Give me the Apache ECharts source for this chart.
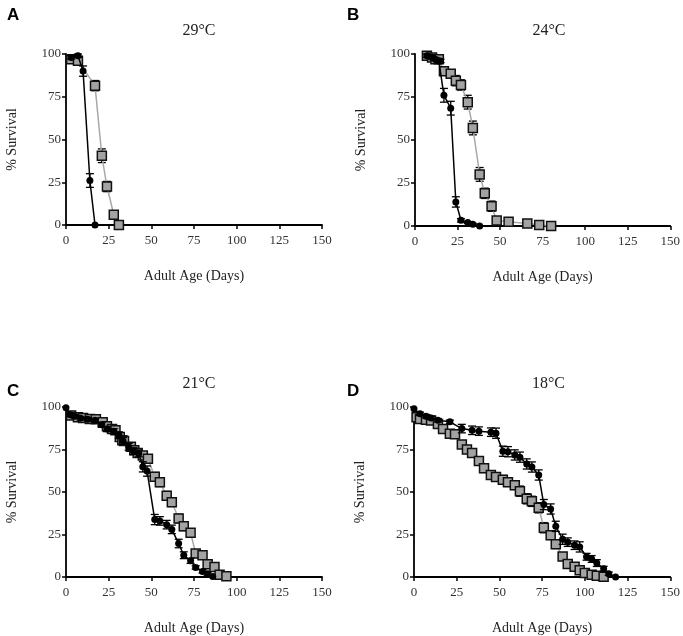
<!DOCTYPE html>
<html><head><meta charset="utf-8">
<script src="https://cdn.jsdelivr.net/npm/echarts@6/dist/echarts.min.js"></script>
<style>html,body{margin:0;padding:0;background:#fff}#c{width:683px;height:636px}</style>
</head><body><div id="c"></div>
<script>
// ---- Panel A: 29°C ----
const aBlackDays = [3, 7, 10, 14, 17];
const aBlackSurv = [98, 99, 90, 26, 0];
const aBlackErr  = [1, 1, 3, 4, 0];
const aGrayDays  = [3, 7, 17, 21, 24, 28, 31];
const aGraySurv  = [97, 96, 81.5, 40.5, 22.5, 6, 0];
const aGrayErr   = [1, 1, 3, 4, 3, 1, 0];
// ---- Panel B: 24°C ----
const bBlackDays = [7, 10, 12, 14, 15, 17, 21, 24, 27, 31, 34, 38];
const bBlackSurv = [99, 98, 97, 96, 96, 76, 68.5, 14, 3.3, 2, 1, 0];
const bBlackErr  = [1, 1, 1, 1, 1, 4, 4, 3, 1, 0.5, 0.5, 0];
const bGrayDays  = [7, 10, 12, 14, 17, 21, 24, 27, 31, 34, 38, 41, 45, 48, 55, 66, 73, 80];
const bGraySurv  = [99, 98, 97, 97, 90, 88.5, 84.5, 82, 72, 57, 30, 19, 11.5, 3.2, 2.5, 1.5, 0.6, 0];
const bGrayErr   = [1, 1, 1, 1, 2, 2, 3, 3, 4, 4, 4, 3, 3, 1, 1, 1, 1, 0];
// ---- Panel C: 21°C ----
const cBlackDays = [0, 2.5, 5, 8.5, 12.7, 17, 21, 24, 28, 31, 33.4, 36.7, 39.6, 42.6, 45, 47.5, 52, 55, 59, 62, 66, 69, 73, 76, 80, 83, 86];
const cBlackSurv = [99.5, 95.5, 94.5, 93.4, 92.8, 92.2, 89.6, 87, 85.7, 83.4, 80, 76.6, 74, 72.7, 64.8, 62.3, 33.8, 33, 30.8, 28, 19.7, 12.8, 9.5, 5.6, 3.3, 1.9, 0.3];
const cBlackErr  = [0, 1, 1, 1, 1, 1, 1.5, 1.5, 1.5, 2, 2, 2, 2, 2, 3, 3, 3, 2.5, 2.5, 2.5, 2.5, 2, 1.5, 1, 1, 1, 0];
const cGrayDays  = [3, 7, 10, 14, 17.5, 21.5, 24, 27, 29, 31.5, 33, 34, 38, 40, 42, 45, 48, 52, 55, 59, 62, 66, 69, 73, 76, 80, 83, 87, 90, 94];
const cGraySurv  = [95, 94, 93.5, 93, 92.8, 91, 88.7, 87, 86.3, 82.4, 80.5, 80, 76.6, 74.6, 73, 71.5, 69.5, 59, 55.7, 47.8, 44, 34.4, 29.8, 26, 13.8, 12.8, 7.5, 5.9, 1.3, 0.4];
const cGrayErr   = [1, 1, 1, 1, 1, 1.5, 1.5, 1.5, 1.5, 2, 2, 2, 2, 2, 2, 2, 2, 2.5, 2.5, 2.5, 2.5, 2.5, 2.5, 2, 2, 2, 1.5, 1.5, 1, 0];
// ---- Panel D: 18°C ----
const dBlackDays = [0, 3.5, 7, 10, 14, 21, 28, 34, 38, 45, 48, 52, 55, 59, 62, 66, 69, 73, 76, 80, 83, 87, 90, 94, 97, 101, 104, 107, 111, 114, 118];
const dBlackSurv = [99, 96, 94.6, 93.6, 92.2, 91.3, 87.3, 86.3, 85.8, 85.2, 84.6, 74, 73.7, 71.8, 70.5, 66.5, 64.7, 60, 42.6, 40, 29.8, 22.2, 20.5, 18.7, 17.7, 11.9, 10.6, 8.2, 4.8, 1.9, 0];
const dBlackErr  = [0, 1, 1, 1, 1, 1, 2.5, 2.5, 2.5, 2.5, 3, 3, 3, 3, 3, 3, 3, 3, 3, 3, 3, 3, 2.5, 2.5, 3, 2, 2, 2, 1.5, 1, 0];
const dGrayDays  = [1.5, 3.5, 7, 10, 14, 17, 21, 24, 28, 31, 34, 38, 41, 45, 48, 52, 55, 59, 62, 66, 69, 73, 76, 80, 83, 87, 90, 94, 97, 100, 104, 107, 111];
const dGraySurv  = [94, 93, 92.5, 92, 90, 87, 84.3, 84, 78, 75, 73, 68.3, 64, 60, 58.8, 57.2, 55.8, 54, 50.5, 46, 44.5, 40.7, 29, 24.6, 19.3, 12, 7.7, 6, 4, 2.4, 1.3, 0.7, 0.2];
const dGrayErr   = [1, 1, 1, 1, 1, 1.5, 1.5, 1.5, 2, 2, 2, 2.5, 2.5, 2.5, 2.5, 2.5, 2.5, 2.5, 3, 3, 3, 3, 3, 2.5, 2.5, 2, 1.5, 1.5, 1, 1, 0.5, 0.5, 0];

const titles = ['29°C', '24°C', '21°C', '18°C'];
const letters = ['A', 'B', 'C', 'D'];
const xTicks = [0, 25, 50, 75, 100, 125, 150];
const yTicks = [0, 25, 50, 75, 100];

const panels = [
  {bd: aBlackDays, bs: aBlackSurv, be: aBlackErr, gd: aGrayDays, gs: aGraySurv, ge: aGrayErr},
  {bd: bBlackDays, bs: bBlackSurv, be: bBlackErr, gd: bGrayDays, gs: bGraySurv, ge: bGrayErr},
  {bd: cBlackDays, bs: cBlackSurv, be: cBlackErr, gd: cGrayDays, gs: cGraySurv, ge: cGrayErr},
  {bd: dBlackDays, bs: dBlackSurv, be: dBlackErr, gd: dGrayDays, gs: dGraySurv, ge: dGrayErr}
];
const grids = [
  {left: 66, top: 54, width: 256, height: 171},
  {left: 415, top: 54, width: 258, height: 172},
  {left: 66, top: 407, width: 256, height: 170},
  {left: 414, top: 407, width: 259, height: 171}
];
const SERIF = '"Liberation Serif", "Times New Roman", serif';

function pairs(d, s) { return d.map((x, i) => [x, s[i]]); }
function triples(d, s, e) { return d.map((x, i) => [x, s[i], e[i]]); }

function errSeries(i, data, z) {
  return {
    type: 'custom', xAxisIndex: i, yAxisIndex: i, z: z, silent: true,
    data: data,
    renderItem: function (params, api) {
      const x = api.value(0), y = api.value(1), e = api.value(2);
      if (!e) return null;
      const top = api.coord([x, y + e]);
      const bot = api.coord([x, Math.max(0, y - e)]);
      const w = 4;
      const st = {stroke: '#000', lineWidth: 1.3};
      return {type: 'group', children: [
        {type: 'line', shape: {x1: top[0], y1: top[1], x2: bot[0], y2: bot[1]}, style: st},
        {type: 'line', shape: {x1: top[0] - w, y1: top[1], x2: top[0] + w, y2: top[1]}, style: st},
        {type: 'line', shape: {x1: bot[0] - w, y1: bot[1], x2: bot[0] + w, y2: bot[1]}, style: st}
      ]};
    }
  };
}

const option = {
  backgroundColor: '#fff',
  animation: false,
  title: [],
  grid: grids.map(g => Object.assign({containLabel: false}, g)),
  xAxis: grids.map((g, i) => ({
    gridIndex: i, type: 'value', min: 0, max: 150, interval: 25,
    name: 'Adult Age (Days)', nameLocation: 'middle', nameGap: 44,
    nameTextStyle: {fontFamily: SERIF, fontSize: 14, color: '#222'},
    axisLine: {show: true, onZero: false, lineStyle: {color: '#000', width: 1.8}},
    axisTick: {show: true, length: 4, lineStyle: {color: '#000', width: 1.5}},
    axisLabel: {fontFamily: SERIF, fontSize: 13, color: '#333', margin: 9},
    splitLine: {show: false}
  })),
  yAxis: grids.map((g, i) => ({
    gridIndex: i, type: 'value', min: 0, max: 100, interval: 25,
    name: '% Survival', nameLocation: 'middle', nameGap: 47, nameRotate: 90,
    nameTextStyle: {fontFamily: SERIF, fontSize: 14, color: '#222'},
    axisLine: {show: true, onZero: false, lineStyle: {color: '#000', width: 1.8}},
    axisTick: {show: true, length: 4, lineStyle: {color: '#000', width: 1.5}},
    axisLabel: {fontFamily: SERIF, fontSize: 13, color: '#333', margin: 5},
    splitLine: {show: false}
  })),
  series: []
};

grids.forEach((g, i) => {
  option.title.push({
    text: titles[i], left: g.left + g.width / 2, top: g.top - 36, textAlign: 'center',
    textStyle: {fontFamily: SERIF, fontSize: 16, fontWeight: 'normal', color: '#222'}
  });
  option.title.push({
    text: letters[i], left: i % 2 === 0 ? 2 : 342, top: i < 2 ? 2 : 378,
    textStyle: {fontFamily: '"Liberation Sans", Arial, sans-serif', fontSize: 17, fontWeight: 'bold', color: '#000'}
  });
  const p = panels[i];
  option.series.push(errSeries(i, triples(p.gd, p.gs, p.ge), 2));
  option.series.push({
    type: 'line', xAxisIndex: i, yAxisIndex: i, z: 3,
    data: pairs(p.gd, p.gs),
    symbol: 'rect', symbolSize: 9, showAllSymbol: true,
    lineStyle: {color: '#a8a8a8', width: 1.5},
    itemStyle: {color: '#a3a3a3', borderColor: '#111', borderWidth: 1.5}
  });
  option.series.push(errSeries(i, triples(p.bd, p.bs, p.be), 4));
  option.series.push({
    type: 'line', xAxisIndex: i, yAxisIndex: i, z: 5,
    data: pairs(p.bd, p.bs),
    symbol: 'circle', symbolSize: 7, showAllSymbol: true,
    lineStyle: {color: '#000', width: 1.5},
    itemStyle: {color: '#000', borderColor: '#000', borderWidth: 0}
  });
});

const chart = echarts.init(document.getElementById('c'), null, {renderer: 'canvas'});
chart.setOption(option);
</script>
</body></html>
